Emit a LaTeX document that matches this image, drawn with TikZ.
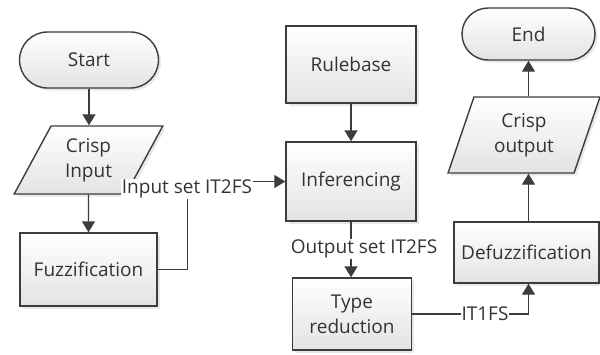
\documentclass[tikz,border=0pt]{standalone}
\usepackage{fontspec}
\setmainfont{Open Sans}
\usetikzlibrary{shapes.geometric,shadows,arrows.meta}
\definecolor{linec}{HTML}{3C3C3C}
\definecolor{txtc}{HTML}{333333}
\begin{document}
\begin{tikzpicture}[x=1pt,y=-1pt,
  every node/.style={font=\fontsize{19}{25}\selectfont, text=txtc},
  shape base/.style={draw=linec, line width=1.4pt, top color=white, bottom color=black!11,
    drop shadow={opacity=0.18, shadow xshift=2.5pt, shadow yshift=-2.5pt},
    inner sep=0pt, align=center},
  procbox/.style={shape base, rectangle},
  termbox/.style={shape base, rectangle, rounded corners=26pt},
  iobox/.style={shape base, trapezium, trapezium stretches=true},
  flow/.style={draw=linec, line width=1.4pt, -{Triangle[length=11pt,width=13pt]}},
  lbl/.style={fill=white, inner sep=1pt}]
\useasboundingbox (0,0) rectangle (600,354);

% process boxes
\node[termbox, minimum width=139pt, minimum height=56pt, rounded corners=28pt] (start) at (89,60) {Start};
\node[iobox, minimum width=149pt, minimum height=68pt, trapezium left angle=62, trapezium right angle=118] (cin) at (88.5,160) {Crisp\\Input};
\node[procbox, minimum width=137pt, minimum height=73pt] (fuz) at (88.5,269.5) {Fuzzification};
\node[procbox, minimum width=130pt, minimum height=77pt] (rule) at (351,64.5) {Rulebase};
\node[procbox, minimum width=130pt, minimum height=79pt] (inf) at (351,181.5) {Inferencing};
\node[procbox, minimum width=119pt, minimum height=72pt] (tr) at (352,314) {Type\\reduction};
\node[procbox, minimum width=145pt, minimum height=61pt] (defuz) at (526.5,252.5) {Defuzzification};
\node[iobox, minimum width=152pt, minimum height=76pt, trapezium left angle=70.4, trapezium right angle=109.6] (cout) at (524,135) {Crisp\\output};
\node[termbox, minimum width=133pt, minimum height=52pt] (endn) at (528.5,34) {End};

% connectors
\draw[flow] (start.south) -- (start.south |- cin.north);
\draw[flow] (cin.south) -- (fuz.north);
\draw[flow] (fuz.east) -- ++(30,0) |- (inf.west);
\draw[flow] (rule.south) -- (inf.north);
\draw[flow] (inf.south) -- (inf.south |- tr.north);
\draw[flow] (tr.east) -| (endn |- defuz.south);
\draw[flow] (endn |- defuz.north) -- (endn |- cout.south);
\draw[flow] (endn |- cout.north) -- (endn.south);

% connector labels
\node[lbl] (l1) at (187,189) {Input set IT2FS};
\node[lbl] (l2) at (364,249) {Output set IT2FS};
\node[lbl] (l3) at (485,314) {IT1FS};
\end{tikzpicture}
\end{document}
